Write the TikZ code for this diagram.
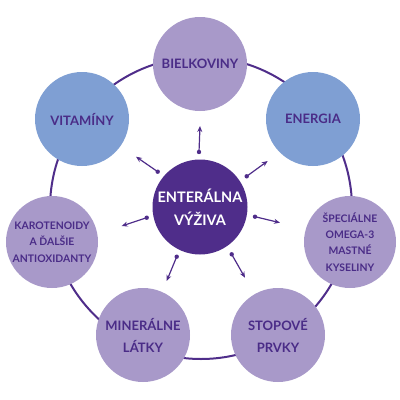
\documentclass[tikz,border=0pt]{standalone}
\usepackage{fontspec}
\setmainfont{Lato}
\usetikzlibrary{arrows.meta}
\definecolor{lav}{HTML}{A899C9}
\definecolor{bluec}{HTML}{7F9FD3}
\definecolor{dpurp}{HTML}{4F2D8A}
\definecolor{txt}{HTML}{4A2C87}
\begin{document}
\begin{tikzpicture}[x=1pt,y=-1pt,
  outer/.style={circle, minimum size=94pt, inner sep=0pt, fill=lav, text=txt, align=center, font=\bfseries\fontsize{13}{22}\selectfont},
  small/.style={font=\bfseries\fontsize{10.4}{16.3}\selectfont},
  center/.style={circle, minimum size=95pt, inner sep=0pt, fill=dpurp, text=white, align=center, font=\bfseries\fontsize{14.5}{22.5}\selectfont},
  ring/.style={draw=dpurp, line width=2pt},
  arr/.style={draw=dpurp, line width=1.2pt, -{Stealth[length=6pt,width=5pt]}},
  dotc/.style={fill=dpurp}]
\useasboundingbox (0,0) rectangle (400,400);
\coordinate (rc) at (201,208);
\draw[ring] (rc) circle (151pt);
\node[outer] (bi) at (200,64) {BIELKOVINY};
\node[outer, fill=bluec] (en) at (313,119) {ENERGIA};
\node[outer, fill=bluec] (vi) at (82,119) {VITAMÍNY};
\node[outer, small, minimum size=92pt] (sp) at (350,242) {ŠPECIÁLNE\\OMEGA-3\\MASTNÉ\\KYSELINY};
\node[outer, small, minimum size=92pt] (ka) at (52,242) {KAROTENOIDY\\A ĎALŠIE\\ANTIOXIDANTY};
\node[outer] (mi) at (143,335) {MINERÁLNE\\LÁTKY};
\node[outer] (st) at (278,335) {STOPOVÉ\\PRVKY};
\node[center] (c) at (200,207) {ENTERÁLNA\\VÝŽIVA};
% arrows
\coordinate (d1) at (199,152);   \coordinate (t1) at (200,126);
\coordinate (d2) at (157.7,171.7); \coordinate (t2) at (136,156.7);
\coordinate (d3) at (246.7,176.3); \coordinate (t3) at (267.7,161);
\coordinate (d4) at (255,216.7); \coordinate (t4) at (280,222.7);
\coordinate (d5) at (146.7,217.7); \coordinate (t5) at (121.7,226);
\coordinate (d6) at (176.7,256.7); \coordinate (t6) at (166.7,281);
\coordinate (d7) at (231.7,254.3); \coordinate (t7) at (245,277.7);
\foreach \i in {1,...,7} {
  \draw[arr] (d\i) -- (t\i);
  \fill[dotc] (d\i) circle (2.2pt);
}
\end{tikzpicture}
\end{document}
